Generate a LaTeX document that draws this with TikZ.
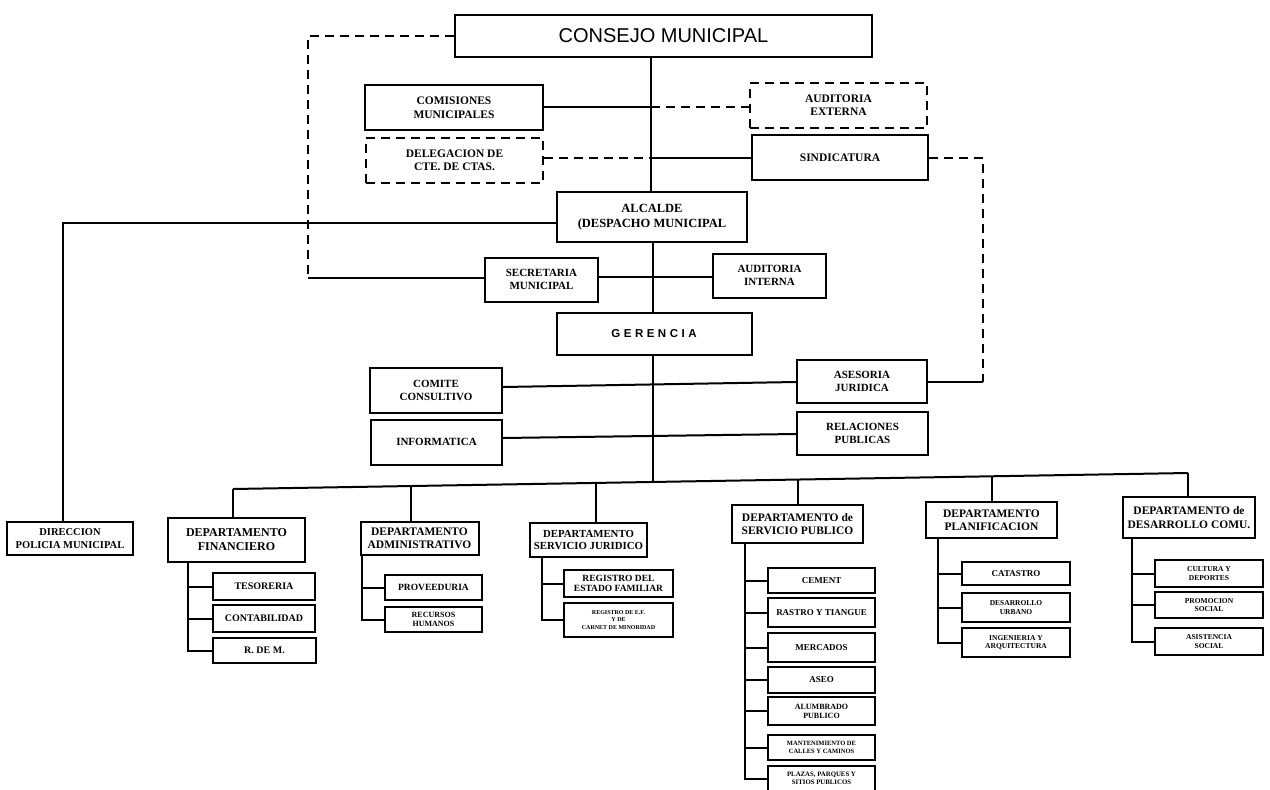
\documentclass[tikz,border=0pt]{standalone}
\usepackage{fontspec}
\setmainfont{Liberation Serif}
\newfontfamily\lsans{Liberation Sans}
\newcommand{\fz}[2]{\fontsize{#1}{#2}\selectfont}
\begin{document}
\begin{tikzpicture}[x=1pt,y=-1pt,
  box/.style={draw, line width=2pt, align=center, inner sep=1pt, font=\bfseries\fz{11}{13}},
  dbox/.style={box, dash pattern=on 9pt off 6pt},
  sz/.style 2 args={minimum width=#1pt, minimum height=#2pt},
  fs/.style 2 args={font=\bfseries\fz{#1}{#2}},
  ln/.style={line width=2pt},
  dsh/.style={line width=2pt, dash pattern=on 9pt off 6pt}]
\fill[white] (0,0) rectangle (1270,790);
\useasboundingbox (0,0) rectangle (1270,790);

% ---- top part
\node[box, sz={417}{42}, font=\lsans\fz{20}{24}] (consejo) at (663.5,36) {CONSEJO MUNICIPAL};
\node[box, sz={178}{45}, fs={11.5}{13.5}] (comisiones) at (454,107.5) {COMISIONES\\MUNICIPALES};
\node[dbox, sz={177}{45}, fs={11.5}{13.5}] (delegacion) at (454.5,160.5) {DELEGACION DE\\CTE. DE CTAS.};
\node[dbox, sz={177}{45}, fs={11.5}{13.5}] (audext) at (838.5,105) {AUDITORIA\\EXTERNA};
\node[box, sz={176}{45}, fs={11.5}{13.5}] (sindicatura) at (840,157.5) {SINDICATURA};
\node[box, sz={190}{50}, fs={12.5}{15}] (alcalde) at (652,217) {ALCALDE\\(DESPACHO MUNICIPAL};
\node[box, sz={113}{44}] (secretaria) at (541.5,279.5) {SECRETARIA\\MUNICIPAL};
\node[box, sz={113}{44}] (audint) at (769.5,275.5) {AUDITORIA\\INTERNA};
\node[box, sz={195}{42}, font=\lsans\bfseries\fz{11.5}{13}] (gerencia) at (654,334) {G\kern3.5pt E\kern3.5pt R\kern3.5pt E\kern3.5pt N\kern3.5pt C\kern3.5pt I\kern3.5pt A};
\node[box, sz={132}{45}] (comite) at (436,390) {COMITE\\CONSULTIVO};
\node[box, sz={131}{45}] (informatica) at (436.5,442) {INFORMATICA};
\node[box, sz={130}{43}] (asesoria) at (862,381.5) {ASESORIA\\JURIDICA};
\node[box, sz={131}{43}] (relaciones) at (862.5,433.5) {RELACIONES\\PUBLICAS};

% ---- departments
\node[box, sz={126}{33}, fs={10.5}{12.5}] (direccion) at (70,538.5) {DIRECCION\\POLICIA MUNICIPAL};
\node[box, sz={137}{44}, fs={12}{14}] (fin) at (236.5,540) {DEPARTAMENTO\\FINANCIERO};
\node[box, sz={118}{33}, fs={11.5}{13}] (adm) at (419.5,538.5) {DEPARTAMENTO\\ADMINISTRATIVO};
\node[box, sz={117}{34}, fs={10.8}{13}] (jur) at (588.5,540) {DEPARTAMENTO\\SERVICIO JURIDICO};
\node[box, sz={131}{38}, fs={11.5}{13.5}] (sp) at (797.5,524) {DEPARTAMENTO de\\SERVICIO PUBLICO};
\node[box, sz={131}{36}, fs={11.5}{13.5}] (pl) at (991.5,520) {DEPARTAMENTO\\PLANIFICACION};
\node[box, sz={132}{41}, fs={11.5}{14}] (dc) at (1189,517.5) {DEPARTAMENTO de\\DESARROLLO COMU.};

% ---- sub units
\node[box, sz={102}{27}, fs={10}{12}] (tes) at (264,586.5) {TESORERIA};
\node[box, sz={102}{27}, fs={10}{12}] (cont) at (264,618.5) {CONTABILIDAD};
\node[box, sz={103}{25}, fs={10}{12}] (rdm) at (264.5,650.5) {R. DE M.};
\node[box, sz={97}{25}, fs={9.5}{11}] (prov) at (433.5,587.5) {PROVEEDURIA};
\node[box, sz={97}{25}, fs={8}{9}] (rec) at (433.5,619.5) {RECURSOS\\HUMANOS};
\node[box, sz={109}{27}, fs={9.5}{10.5}] (reg1) at (618.5,583.5) {REGISTRO DEL\\ESTADO FAMILIAR};
\node[box, sz={109}{34}, fs={6}{7.5}] (reg2) at (618.5,620) {REGISTRO DE E.F.\\Y DE\\CARNET DE MINORIDAD};
\node[box, sz={107}{25}, fs={9}{10.5}] (cem) at (821.5,580.5) {CEMENT};
\node[box, sz={107}{29}, fs={9}{10.5}] (ras) at (821.5,612.5) {RASTRO Y TIANGUE};
\node[box, sz={107}{29}, fs={9}{10.5}] (mer) at (821.5,647.5) {MERCADOS};
\node[box, sz={107}{26}, fs={9}{10.5}] (aseo) at (821.5,680) {ASEO};
\node[box, sz={107}{28}, fs={8}{9}] (alum) at (821.5,711) {ALUMBRADO\\PUBLICO};
\node[box, sz={107}{25}, fs={6.5}{7.5}] (mant) at (821.5,747.5) {MANTENIMIENTO DE\\CALLES Y CAMINOS};
\node[box, sz={107}{25}, fs={6.8}{7.8}] (plz) at (821.5,778.5) {PLAZAS, PARQUES Y\\SITIOS PUBLICOS};
\node[box, sz={108}{23}, fs={9}{10.5}] (cat) at (1016,573.5) {CATASTRO};
\node[box, sz={108}{29}, fs={7.5}{8.5}] (dur) at (1016,607.5) {DESARROLLO\\URBANO};
\node[box, sz={108}{29}, fs={7.5}{8.5}] (ing) at (1016,642.5) {INGENIERIA Y\\ARQUITECTURA};
\node[box, sz={108}{27}, fs={7.5}{8.5}] (cul) at (1209,573.5) {CULTURA Y\\DEPORTES};
\node[box, sz={108}{26}, fs={7.5}{8.5}] (pro) at (1209,605) {PROMOCION\\SOCIAL};
\node[box, sz={108}{27}, fs={7.5}{8.5}] (asi) at (1209,641.5) {ASISTENCIA\\SOCIAL};

% ---- coordinates
\coordinate (cL) at (308,36);
\coordinate (cB) at (308,278);
\coordinate (m1) at (651,107);
\coordinate (m2) at (651,158);
\coordinate (ys) at (0,277);
\coordinate (yc1) at (0,387);
\coordinate (yc2) at (0,382);
\coordinate (yi1) at (0,438);
\coordinate (yi2) at (0,434);
\coordinate (dT) at (63,223);
\coordinate (sB) at (983,381.5);
\coordinate (bF) at (233,489);
\coordinate (bA) at (411,486);
\coordinate (bJ) at (596,483);
\coordinate (bC) at (653,482);
\coordinate (bS) at (798,479.5);
\coordinate (bP) at (992,476.3);
\coordinate (bD) at (1188,473);
\coordinate (fT) at (188,0);
\coordinate (aT) at (362,0);
\coordinate (jT) at (542,0);
\coordinate (sT) at (745,0);
\coordinate (pT) at (938,0);
\coordinate (dT2) at (1132,0);

% ---- connectors top
\draw[dsh] (consejo.west) -- (cL) -- (cB);
\draw[ln] (cB) -- (secretaria.west |- cB);
\draw[ln] (consejo.south -| m1) -- (alcalde.north -| m1);
\draw[ln] (comisiones.east |- m1) -- (m1);
\draw[dsh] (m1) -- (audext.west |- m1);
\draw[dsh] (delegacion.east |- m2) -- (m2);
\draw[ln] (m2) -- (sindicatura.west |- m2);
\draw[dsh] (sindicatura.east) -| (sB);
\draw[ln] (sB) -- (asesoria.east);
\draw[ln] (alcalde.west |- dT) -- (dT) -- (direccion.north -| dT);
\draw[ln] (alcalde.south -| bC) -- (gerencia.north -| bC);
\draw[ln] (secretaria.east |- ys) -- (audint.west |- ys);
\draw[ln] (gerencia.south -| bC) -- (bC);
\draw[ln] (comite.east |- yc1) -- (asesoria.west |- yc2);
\draw[ln] (informatica.east |- yi1) -- (relaciones.west |- yi2);

% ---- bus and drops
\draw[ln] (bF) -- (bD);
\draw[ln] (bF) -- (fin.north -| bF);
\draw[ln] (bA) -- (adm.north -| bA);
\draw[ln] (bJ) -- (jur.north -| bJ);
\draw[ln] (bS) -- (sp.north -| bS);
\draw[ln] (bP) -- (pl.north -| bP);
\draw[ln] (bD) -- (dc.north -| bD);

% ---- sub-unit trunks
\foreach \s in {tes,cont,rdm} \draw[ln] (fin.south -| fT) |- (\s.west);
\foreach \s in {prov,rec} \draw[ln] (adm.south -| aT) |- (\s.west);
\foreach \s in {reg1,reg2} \draw[ln] (jur.south -| jT) |- (\s.west);
\foreach \s in {cem,ras,mer,aseo,alum,mant,plz} \draw[ln] (sp.south -| sT) |- (\s.west);
\foreach \s in {cat,dur,ing} \draw[ln] (pl.south -| pT) |- (\s.west);
\foreach \s in {cul,pro,asi} \draw[ln] (dc.south -| dT2) |- (\s.west);
\end{tikzpicture}
\end{document}
